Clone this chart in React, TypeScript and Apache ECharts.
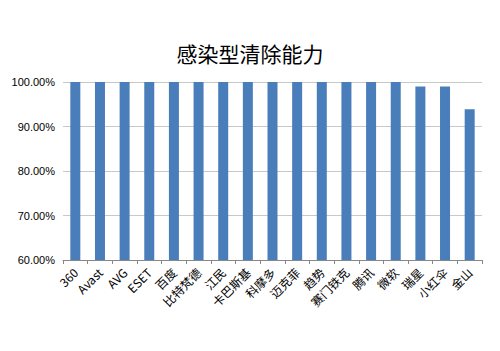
import React, { useEffect, useRef } from "react";
import * as echarts from "echarts";

const title = "感染型清除能力";
const categories = ["360", "Avast", "AVG", "ESET", "百度", "比特梵德", "江民", "卡巴斯基", "科摩多", "迈克菲", "趋势", "赛门铁克", "腾讯", "微软", "瑞星", "小红伞", "金山"];
const values = [100, 100, 100, 100, 100, 100, 100, 100, 100, 100, 100, 100, 100, 100, 99.0, 99.0, 93.9];

export default function App() {
  const ref = useRef<HTMLDivElement>(null);
  useEffect(() => {
    const chart = echarts.init(ref.current!, null, { renderer: "svg" });
    chart.setOption({
      animation: false,
      backgroundColor: "#ffffff",
      title: {
        text: title,
        left: "center",
        top: 37,
        textStyle: { fontFamily: "Noto Sans CJK SC", fontSize: 21, fontWeight: "normal", color: "#000" },
      },
      grid: { left: 63, right: 18, top: 82, bottom: 91, containLabel: false },
      xAxis: {
        type: "category",
        data: categories,
        axisLine: { lineStyle: { color: "#888888" } },
        axisTick: { show: true, length: 4, lineStyle: { color: "#888888" } },
        axisLabel: {
          rotate: 45,
          interval: 0,
          fontSize: 12,
          color: "#000",
          fontFamily: "Noto Sans CJK SC",
          margin: 10,
        },
      },
      yAxis: {
        type: "value",
        min: 60,
        max: 100,
        interval: 10,
        axisLine: { show: false },
        axisTick: { show: false },
        splitLine: { lineStyle: { color: "#c8c8c8" } },
        axisLabel: {
          formatter: (v: number) => v.toFixed(2) + "%",
          fontSize: 11,
          color: "#000",
          fontFamily: "Liberation Sans",
          margin: 8,
        },
      },
      series: [
        {
          type: "bar",
          data: values,
          barWidth: 10,
          itemStyle: { color: "#4A7EBB" },
        },
      ],
    });
    return () => chart.dispose();
  }, []);
  return <div ref={ref} style={{ width: 500, height: 351, position: "absolute", left: 0, top: 0 }} />;
}
